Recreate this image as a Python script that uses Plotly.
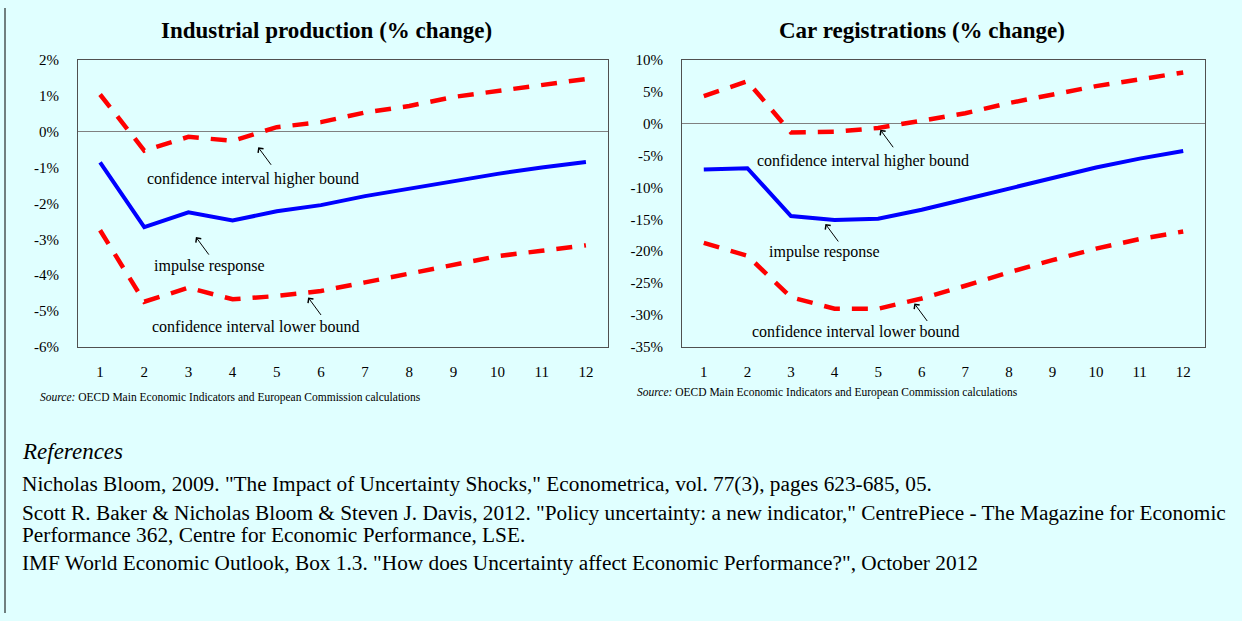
import plotly.graph_objects as go

W, H = 1242, 621

periods = list(range(1, 13))
tick_labels = [str(p) for p in periods]

# Industrial production (% change)
ip_impulse = [-0.86, -2.66, -2.25, -2.48, -2.22, -2.05, -1.80, -1.59, -1.37, -1.18, -1.00, -0.85]
ip_upper = [1.03, -0.53, -0.15, -0.26, 0.12, 0.26, 0.53, 0.71, 0.96, 1.12, 1.30, 1.46]
ip_lower = [-2.75, -4.74, -4.35, -4.67, -4.58, -4.44, -4.20, -3.95, -3.70, -3.47, -3.32, -3.17]
ip_yticks = [2, 1, 0, -1, -2, -3, -4, -5, -6]

# Car registrations (% change)
car_impulse = [-7.2, -7.0, -14.5, -15.1, -14.9, -13.5, -11.85, -10.2, -8.4, -6.9, -5.5, -4.3]
car_upper = [4.3, 6.6, -1.4, -1.3, -0.7, 0.5, 1.6, 3.2, 4.6, 5.85, 6.9, 8.0]
car_lower = [-18.7, -20.7, -27.2, -29.0, -29.0, -27.4, -25.4, -23.3, -21.4, -19.6, -18.1, -16.9]
car_yticks = [10, 5, 0, -5, -10, -15, -20, -25, -30, -35]

references = [
    'Nicholas Bloom, 2009. "The Impact of Uncertainty Shocks," Econometrica, vol. 77(3), pages 623-685, 05.',
    'Scott R. Baker &amp; Nicholas Bloom &amp; Steven J. Davis, 2012. "Policy uncertainty: a new indicator," CentrePiece - The Magazine for Economic',
    'Performance 362, Centre for Economic Performance, LSE.',
    'IMF World Economic Outlook, Box 1.3. "How does Uncertainty affect Economic Performance?", October 2012',
]

BG = '#e0ffff'
FONT = 'Liberation Serif'
BLUE = '#0000ff'
RED = '#ff0000'
DASH = '16px,12px'

fig = go.Figure()


def add_panel(impulse, upper, lower, xa, ya):
    fig.add_trace(go.Scatter(x=periods, y=upper, mode='lines', xaxis=xa, yaxis=ya,
                             line=dict(color=RED, width=4.5, dash=DASH), showlegend=False))
    fig.add_trace(go.Scatter(x=periods, y=lower, mode='lines', xaxis=xa, yaxis=ya,
                             line=dict(color=RED, width=4.5, dash=DASH), showlegend=False))
    fig.add_trace(go.Scatter(x=periods, y=impulse, mode='lines', xaxis=xa, yaxis=ya,
                             line=dict(color=BLUE, width=4), showlegend=False))


add_panel(ip_impulse, ip_upper, ip_lower, 'x', 'y')
add_panel(car_impulse, car_upper, car_lower, 'x2', 'y2')

xaxis_style = dict(range=[0.5, 12.5], tickvals=periods, ticktext=tick_labels,
                   showgrid=False, zeroline=False, showline=True, mirror=True,
                   linecolor='#505050', linewidth=1, ticks='', ticklabelstandoff=11,
                   tickfont=dict(family=FONT, size=15, color='black'))


def yaxis_style(ticks, lo, hi):
    return dict(range=[lo, hi], tickvals=ticks, ticktext=[f'{t}%' for t in ticks],
                showgrid=False, zeroline=True, zerolinecolor='#808080', zerolinewidth=1,
                showline=True, mirror=True, linecolor='#505050', linewidth=1, ticks='',
                ticklabelstandoff=15, tickfont=dict(family=FONT, size=15, color='black'))


ydom = [1 - 348 / H, 1 - 53 / H]
fig.update_layout(
    width=W, height=H,
    margin=dict(l=0, r=0, t=0, b=0),
    paper_bgcolor=BG, plot_bgcolor=BG,
    font=dict(family=FONT, color='black'),
    xaxis=dict(domain=[78 / W, 608 / W], anchor='y', **xaxis_style),
    yaxis=dict(domain=ydom, anchor='x', **yaxis_style(ip_yticks, -6, 2)),
    xaxis2=dict(domain=[682 / W, 1205 / W], anchor='y2', **xaxis_style),
    yaxis2=dict(domain=ydom, anchor='x2', **yaxis_style(car_yticks, -35, 10)),
)

ann = []
# titles
ann.append(dict(text='<b>Industrial production (% change)</b>', xref='paper', yref='paper',
                x=326 / W, y=1 - 23 / H, xanchor='center', yanchor='middle',
                showarrow=False, font=dict(size=23)))
ann.append(dict(text='<b>Car registrations (% change)</b>', xref='paper', yref='paper',
                x=922 / W, y=1 - 23 / H, xanchor='center', yanchor='middle',
                showarrow=False, font=dict(size=23)))

# in-chart labels
labels = [
    ('x', 'y', 'confidence interval higher bound', 4.46, -1.31, 4.58, -0.44),
    ('x', 'y', 'impulse response', 3.47, -3.75, 3.17, -2.94),
    ('x', 'y', 'confidence interval lower bound', 4.51, -5.43, 5.71, -4.62),
    ('x2', 'y2', 'confidence interval higher bound', 4.66, -5.82, 5.05, -0.98),
    ('x2', 'y2', 'impulse response', 3.76, -20.05, 3.79, -15.73),
    ('x2', 'y2', 'confidence interval lower bound', 4.47, -32.5, 5.83, -28.18),
]
for xr, yr, txt, tx, ty, axx, axy in labels:
    ann.append(dict(text=txt, xref=xr, yref=yr, x=tx, y=ty, xanchor='center', yanchor='middle',
                    showarrow=False, font=dict(size=16)))
    ann.append(dict(text='', xref=xr, yref=yr, x=axx, y=axy, showarrow=True,
                    arrowhead=4, arrowsize=1.3, arrowwidth=1, arrowcolor='black',
                    ax=14, ay=19))

# sources
for x0, y0 in [(38, 400), (635, 395)]:
    ann.append(dict(text='<i>Source:</i> OECD Main Economic Indicators and European Commission calculations',
                    xref='paper', yref='paper', x=x0 / W, y=1 - y0 / H,
                    xanchor='left', yanchor='middle', showarrow=False, font=dict(size=11.5)))

# references block
ann.append(dict(text='<i>References</i>', xref='paper', yref='paper', x=20 / W, y=1 - 455 / H,
                xanchor='left', yanchor='middle', showarrow=False, font=dict(size=23)))
for txt, y0 in zip(references, [489, 518, 541, 570]):
    ann.append(dict(text=txt, xref='paper', yref='paper', x=20 / W, y=1 - y0 / H,
                    xanchor='left', yanchor='middle', showarrow=False, font=dict(size=21.3)))

fig.update_layout(annotations=ann)

# frame line on the left edge of the page
fig.add_shape(type='line', xref='paper', yref='paper', x0=5 / W, x1=5 / W, y0=0, y1=1,
              line=dict(color='black', width=1))

fig.write_html("out.html", config={'displayModeBar': False},
               post_script="document.body.style.margin='0';document.body.style.overflow='hidden';")
